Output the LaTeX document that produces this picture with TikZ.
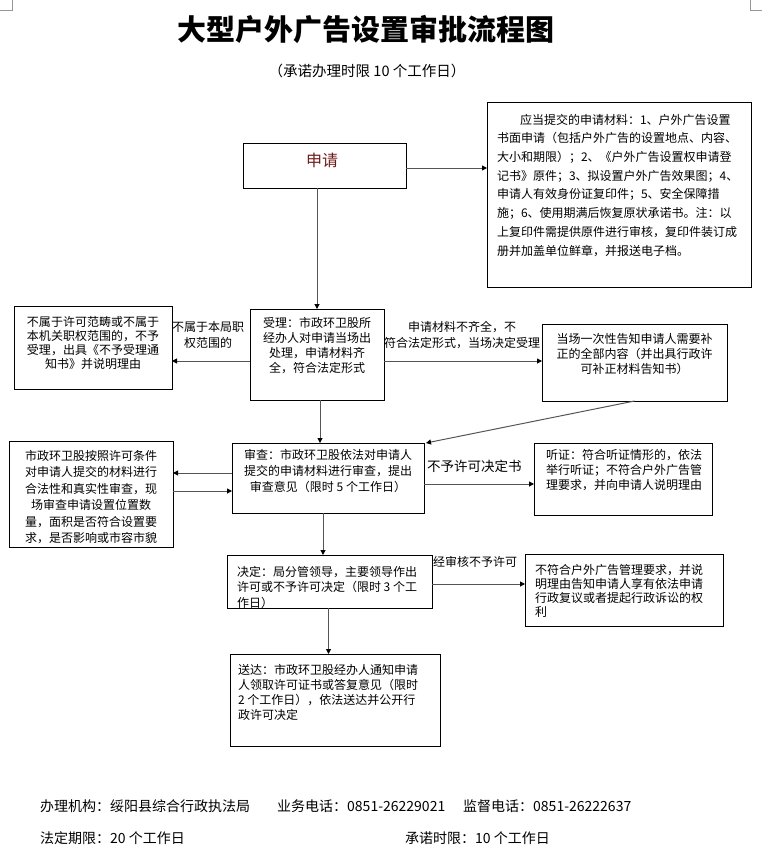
\documentclass[tikz,border=0pt]{standalone}
\usepackage{fontspec}
\setmainfont{Noto Sans CJK SC}
\usetikzlibrary{arrows.meta}
\definecolor{linegray}{RGB}{85,85,85}
\definecolor{markgray}{RGB}{150,150,150}
\definecolor{sqred}{RGB}{110,25,25}
\begin{document}
\begin{tikzpicture}[x=1pt,y=-1pt,
  box/.style={draw=black, line width=0.8pt, inner sep=0pt, outer sep=0pt, anchor=north west},
  arr/.style={draw=linegray, line width=1pt, -{Triangle[length=5pt,width=5pt,color=black]}},
  txt/.style={inner sep=0pt, outer sep=0pt, font=\fontsize{12}{15}\selectfont},
  lbl/.style={inner sep=0pt, outer sep=0pt, font=\fontsize{12}{16}\selectfont, align=center}
]
\useasboundingbox (0,0) rectangle (762,856);
% corner marks
\draw[markgray, line width=0.6pt] (0,10) -- (12,10) -- (12,0);
\draw[markgray, line width=0.6pt] (762,10) -- (750,10) -- (750,0);

% title
\node[inner sep=0pt, font=\bfseries\fontsize{29}{32}\selectfont] (title) at (366,29) {大型户外广告设置审批流程图};
\node[inner sep=0pt, font=\fontsize{14.5}{16}\selectfont] (subtitle) at (367,71) {（承诺办理时限 10 个工作日）};

% boxes
\node[box, minimum width=163pt, minimum height=45pt] (sq) at (243,143) {};
\node[box, minimum width=264pt, minimum height=185pt] (cl) at (487,102) {};
\node[box, minimum width=158pt, minimum height=83pt] (bs) at (14,306) {};
\node[box, minimum width=134pt, minimum height=91pt] (sl) at (250,309) {};
\node[box, minimum width=185pt, minimum height=77pt] (dc) at (542,324) {};
\node[box, minimum width=164pt, minimum height=106pt] (hs) at (9,441) {};
\node[box, minimum width=192pt, minimum height=70pt] (sc) at (232,443) {};
\node[box, minimum width=178pt, minimum height=72pt] (tz) at (534,443) {};
\node[box, minimum width=205pt, minimum height=53pt] (jd) at (227,555) {};
\node[box, minimum width=198pt, minimum height=72pt] (bf) at (525,554) {};
\node[box, minimum width=210pt, minimum height=92pt] (sd) at (230,654) {};

% box texts
\node[inner sep=0pt, text=sqred, font=\fontsize{16}{18}\selectfont] (sqt) at (322,160) {申请};
\node[txt, anchor=north west, align=left, font=\fontsize{12}{18.7}\selectfont] (clt) at (497,114) {%
\hspace*{23pt}应当提交的申请材料：1、户外广告设置\\
书面申请（包括户外广告的设置地点、内容、\\
大小和期限）；2、《户外广告设置权申请登\\
记书》原件；3、拟设置户外广告效果图；4、\\
申请人有效身份证复印件；5、安全保障措\\
施；6、使用期满后恢复原状承诺书。注：以\\
上复印件需提供原件进行审核，复印件装订成\\
册并加盖单位鲜章，并报送电子档。};
\node[txt, anchor=north, align=center, font=\fontsize{12}{14}\selectfont] (bst) at (93,316) {%
不属于许可范畴或不属于\\本机关职权范围的，不予\\受理，出具《不予受理通\\知书》并说明理由};
\node[txt, anchor=north, align=center] (slt) at (317,317) {%
受理：市政环卫股所\\经办人对申请当场出\\处理，申请材料齐\\全，符合法定形式};
\node[txt, anchor=north, align=center] (dct) at (634.5,333) {%
当场一次性告知申请人需要补\\正的全部内容（并出具行政许\\可补正材料告知书）};
\node[txt, anchor=north, align=center, font=\fontsize{12}{16.5}\selectfont] (hst) at (91,450) {%
市政环卫股按照许可条件\\对申请人提交的材料进行\\合法性和真实性审查，现\\场审查申请设置位置数\\量，面积是否符合设置要\\求，是否影响或市容市貌};
\node[txt, anchor=north, align=center, font=\fontsize{12}{16}\selectfont] (sct) at (328,449) {%
审查：市政环卫股依法对申请人\\提交的申请材料进行审查，提出\\审查意见（限时 5 个工作日）};
\node[txt, anchor=north west, align=left] (tzt) at (546,449) {%
听证：符合听证情形的，依法\\举行听证；不符合户外广告管\\理要求，并向申请人说明理由};
\begin{scope}
\clip (227,555) rectangle (432,607);
\node[txt, anchor=north west, align=left, font=\fontsize{12}{15.5}\selectfont] (jdt) at (237,566) {%
决定：局分管领导，主要领导作出\\许可或不予许可决定（限时 3 个工\\作日）};
\end{scope}
\node[txt, anchor=north west, align=left, font=\fontsize{12}{14}\selectfont] (bft) at (535,564) {%
不符合户外广告管理要求，并说\\明理由告知申请人享有依法申请\\行政复议或者提起行政诉讼的权\\利};
\node[txt, anchor=north west, align=left] (sdt) at (238,664) {%
送达：市政环卫股经办人通知申请\\人领取许可证书或答复意见（限时\\2 个工作日），依法送达并公开行\\政许可决定};

% connector labels
\node[lbl, anchor=north] (l1) at (208,321) {不属于本局职\\权范围的};
\node[lbl, anchor=north] (l2) at (462,321) {申请材料不齐全，不\\符合法定形式，当场决定受理};
\node[inner sep=0pt, anchor=west, font=\fontsize{13.5}{15}\selectfont] (l3) at (427,466) {不予许可决定书};
\node[inner sep=0pt, anchor=west, font=\fontsize{12}{14}\selectfont] (l4) at (433,562) {经审核不予许可};

% connectors
\draw[arr] (sq.south -| sl.north) -- (sl.north);
\draw[arr] ([yshift=-2.5pt]sq.east) -- ([yshift=-2.5pt]sq.east -| cl.west);
\draw[arr] ([yshift=-6.5pt]sl.west) -- ([yshift=-6.5pt]sl.west -| bs.east);
\draw[arr] ([yshift=-6.5pt]sl.east) -- ([yshift=-6.5pt]sl.east -| dc.west);
\draw[arr] ([xshift=3pt]sl.south) -- ([xshift=3pt]sl.south |- sc.north);
\draw[arr] (dc.south) -- ([xshift=2pt]sc.north east);
\draw[arr] ([yshift=5pt]sc.west) -- ([yshift=5pt]sc.west -| hs.east);
\draw[arr] ([yshift=-13pt]hs.east |- sc.west) -- ([yshift=-13pt]sc.west);
\draw[arr] ([yshift=-6pt]sc.east) -- ([yshift=-6pt]sc.east -| tz.west);
\draw[arr] ([xshift=-5pt]sc.south) -- ([xshift=-5pt]sc.south |- jd.north);
\draw[arr] ([yshift=-2.5pt]jd.east) -- ([yshift=-2.5pt]jd.east -| bf.west);
\draw[arr] ([xshift=-1pt]jd.south) -- ([xshift=-1pt]jd.south |- sd.north);

% footer
\node[inner sep=0pt, anchor=west, font=\fontsize{14}{16}\selectfont] (f1) at (40,806) {办理机构：绥阳县综合行政执法局};
\node[inner sep=0pt, anchor=west, font=\fontsize{14}{16}\selectfont] (f2) at (277,806) {业务电话：0851-26229021};
\node[inner sep=0pt, anchor=west, font=\fontsize{14}{16}\selectfont] (f3) at (463,806) {监督电话：0851-26222637};
\node[inner sep=0pt, anchor=west, font=\fontsize{14}{16}\selectfont] (f4) at (40,838) {法定期限：20 个工作日};
\node[inner sep=0pt, anchor=west, font=\fontsize{14}{16}\selectfont] (f5) at (405,838) {承诺时限：10 个工作日};
\end{tikzpicture}
\end{document}
